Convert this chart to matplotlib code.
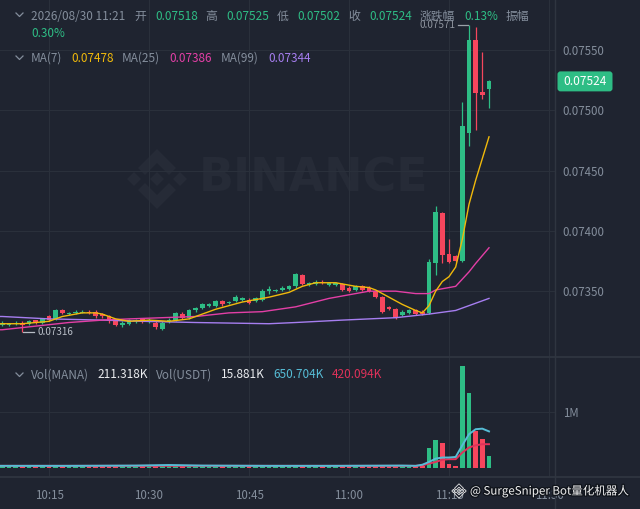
import numpy as np
import matplotlib.pyplot as plt
from matplotlib.patches import Polygon, FancyBboxPatch
from matplotlib import patheffects as pe

plt.rcParams['font.family'] = ['Noto Sans CJK SC', 'DejaVu Sans']

BG = '#1f2430'
GRID = '#2a303b'
SEP = '#2f3540'
TXT = '#848e9c'
UP = '#2ebd85'
DN = '#f6465d'
C_MA7 = '#f0b90b'
C_MA25 = '#e33fa6'
C_MA99 = '#a67ef0'
C_VMA5 = '#56bdd6'
C_VMA10 = '#e0325a'

# 1m candles, 10:08 .. 11:21 (index 0..73)
opens = [0.07322, 0.07322, 0.07323, 0.07324, 0.07323, 0.07326, 0.07324, 0.07329, 0.07327, 0.07334,
         0.07331, 0.07332, 0.07332, 0.07333, 0.07333, 0.07331, 0.07329, 0.07326, 0.07322, 0.07323,
         0.07325, 0.07327, 0.07325, 0.07324, 0.07319, 0.07325, 0.07326, 0.07331, 0.07328, 0.07334,
         0.07336, 0.07338, 0.07338, 0.07342, 0.07340, 0.07342, 0.07343, 0.07343, 0.07342, 0.07343,
         0.07350, 0.07350, 0.07351, 0.07352, 0.07354, 0.07363, 0.07355, 0.07356, 0.07358, 0.07355,
         0.07355, 0.07356, 0.07353, 0.07351, 0.07354, 0.07353, 0.07350, 0.07345, 0.07337, 0.07335,
         0.07330, 0.07332, 0.07334, 0.07333, 0.07332, 0.07373, 0.07415, 0.07381, 0.07379, 0.07375,
         0.07481, 0.07558, 0.07515, 0.07518]
closes = [0.07324, 0.07324, 0.07324, 0.07322, 0.07325, 0.07324, 0.07327, 0.07326, 0.07334, 0.07332,
          0.07332, 0.07333, 0.07333, 0.07332, 0.07329, 0.07329, 0.07325, 0.07322, 0.07324, 0.07326,
          0.07326, 0.07325, 0.07326, 0.07320, 0.07324, 0.07326, 0.07332, 0.07328, 0.07334, 0.07336,
          0.07339, 0.07339, 0.07342, 0.07339, 0.07341, 0.07345, 0.07344, 0.07340, 0.07344, 0.07350,
          0.07352, 0.07351, 0.07353, 0.07354, 0.07364, 0.07356, 0.07357, 0.07358, 0.07357, 0.07357,
          0.07357, 0.07351, 0.07350, 0.07354, 0.07351, 0.07350, 0.07345, 0.07333, 0.07335, 0.07328,
          0.07333, 0.07334, 0.07331, 0.07331, 0.07374, 0.07416, 0.07380, 0.07374, 0.07375, 0.07487,
          0.07558, 0.07514, 0.07513, 0.07524]
highs = [0.07325, 0.07324, 0.07325, 0.07325, 0.07326, 0.07326, 0.07328, 0.07330, 0.07335, 0.07335,
         0.07333, 0.07334, 0.07334, 0.07334, 0.07334, 0.07332, 0.07330, 0.07327, 0.07325, 0.07327,
         0.07327, 0.07328, 0.07328, 0.07325, 0.07325, 0.07328, 0.07333, 0.07333, 0.07335, 0.07337,
         0.07340, 0.07340, 0.07343, 0.07343, 0.07342, 0.07347, 0.07345, 0.07344, 0.07345, 0.07352,
         0.07354, 0.07352, 0.07354, 0.07355, 0.07365, 0.07364, 0.07358, 0.07359, 0.07359, 0.07358,
         0.07358, 0.07357, 0.07354, 0.07355, 0.07355, 0.07354, 0.07351, 0.07346, 0.07338, 0.07336,
         0.07334, 0.07335, 0.07335, 0.07334, 0.07377, 0.07421, 0.07416, 0.07393, 0.07380, 0.07507,
         0.07571, 0.07569, 0.07548, 0.07525]
lows = [0.07321, 0.07321, 0.07322, 0.07316, 0.07322, 0.07323, 0.07323, 0.07325, 0.07326, 0.07331,
        0.07330, 0.07331, 0.07332, 0.07331, 0.07328, 0.07328, 0.07324, 0.07321, 0.07320, 0.07322,
        0.07324, 0.07324, 0.07324, 0.07319, 0.07318, 0.07324, 0.07325, 0.07327, 0.07327, 0.07333,
        0.07335, 0.07337, 0.07337, 0.07338, 0.07339, 0.07341, 0.07342, 0.07339, 0.07341, 0.07342,
        0.07348, 0.07349, 0.07350, 0.07351, 0.07353, 0.07355, 0.07354, 0.07355, 0.07356, 0.07354,
        0.07354, 0.07350, 0.07349, 0.07350, 0.07350, 0.07349, 0.07344, 0.07332, 0.07334, 0.07327,
        0.07329, 0.07331, 0.07330, 0.07330, 0.07331, 0.07363, 0.07373, 0.07373, 0.07374, 0.07374,
        0.07470, 0.07484, 0.07509, 0.07502]
# volume in millions of MANA
vols = [0.03, 0.02, 0.02, 0.04, 0.02, 0.02, 0.03, 0.03, 0.04, 0.03,
        0.02, 0.02, 0.02, 0.02, 0.03, 0.02, 0.03, 0.03, 0.03, 0.02,
        0.02, 0.03, 0.02, 0.04, 0.04, 0.02, 0.03, 0.03, 0.03, 0.02,
        0.02, 0.02, 0.03, 0.02, 0.02, 0.05, 0.02, 0.03, 0.02, 0.03,
        0.02, 0.02, 0.02, 0.02, 0.04, 0.03, 0.02, 0.02, 0.02, 0.02,
        0.02, 0.03, 0.02, 0.02, 0.02, 0.02, 0.03, 0.03, 0.02, 0.03,
        0.05, 0.02, 0.03, 0.02, 0.36, 0.49, 0.44, 0.07, 0.02, 1.82,
        1.35, 0.65, 0.51, 0.211318]

# moving averages (index, value)
ma7_t = [-1, 0, 3, 5, 7, 9, 12, 14, 15, 17, 19, 22, 25, 28, 30, 32, 34, 36, 38, 40, 43, 45, 47,
         50, 51, 53, 55, 56, 58, 60, 62, 63, 64, 65, 66, 67, 68, 69, 70, 71, 72, 73]
ma7_v = [0.07323, 0.07323, 0.07323, 0.07324, 0.07325, 0.07329, 0.07332, 0.07332, 0.07331, 0.07327,
         0.07325, 0.07326, 0.07325, 0.07327, 0.07331, 0.07335, 0.07338, 0.07341, 0.07343, 0.07345,
         0.07349, 0.07354, 0.07357, 0.07357, 0.07356, 0.07354, 0.07353, 0.07351, 0.07345, 0.07339,
         0.07334, 0.07332, 0.07338, 0.07350, 0.07358, 0.07362, 0.07370, 0.07393, 0.07422, 0.07442,
         0.07460, 0.07478]
ma25_t = [-1, 0, 5, 10, 15, 19, 24, 29, 34, 39, 44, 49, 52, 55, 59, 62, 64, 65, 68, 70, 71, 73]
ma25_v = [0.07318, 0.07318, 0.07321, 0.07324, 0.07326, 0.07327, 0.07328, 0.07329, 0.07332, 0.07333,
          0.07337, 0.07344, 0.07347, 0.07350, 0.07350, 0.07348, 0.07348, 0.07351, 0.07354, 0.07366,
          0.07373, 0.07386]
ma99_t = [-1, 0, 7, 15, 21, 29, 40, 44, 51, 59, 64, 68, 73]
ma99_v = [0.07329, 0.07329, 0.07327, 0.07326, 0.07325, 0.07324, 0.07323, 0.07324, 0.07326, 0.07328,
          0.07331, 0.07334, 0.07344]
vma5_t = [-1, 10, 20, 25, 30, 40, 50, 60, 62, 63, 64, 65, 66, 67, 68, 69, 70, 71, 72, 73]
vma5_v = [0.03, 0.03, 0.035, 0.045, 0.035, 0.03, 0.03, 0.035, 0.03, 0.05, 0.10, 0.16, 0.18, 0.18,
          0.19, 0.40, 0.60, 0.69, 0.70, 0.650704]
vma10_t = [-1, 20, 40, 60, 62, 63, 64, 65, 66, 67, 68, 69, 70, 71, 72, 73]
vma10_v = [0.03, 0.03, 0.03, 0.03, 0.03, 0.04, 0.07, 0.10, 0.14, 0.15, 0.15, 0.27, 0.36, 0.40,
           0.42, 0.420094]

price_ticks = [0.07350, 0.07400, 0.07450, 0.07500, 0.07550]
time_ticks = [7, 22, 37, 52, 67, 82]
time_labels = ['10:15', '10:30', '10:45', '11:00', '11:15', '11:30']
vol_usdt = '15.881K'

W, H = 640, 509
fig = plt.figure(figsize=(W / 100, H / 100), dpi=100, facecolor=BG)

# background layer in pixel coords: big watermark
bg = fig.add_axes([0, 0, 1, 1], zorder=0)
bg.set_xlim(0, W)
bg.set_ylim(H, 0)
bg.axis('off')


def logo(a, cx, cy, s, **kw):
    shapes = [
        [(0, -7), (7, 0), (0, 7), (-7, 0)],
        [(-23, -7), (-16, 0), (-23, 7), (-30, 0)],
        [(23, -7), (30, 0), (23, 7), (16, 0)],
        [(0, -30), (19, -11), (12, -4), (0, -16), (-12, -4), (-19, -11)],
        [(0, 30), (19, 11), (12, 4), (0, 16), (-12, 4), (-19, 11)],
    ]
    for sh in shapes:
        a.add_patch(Polygon([(cx + s * x, cy + s * y) for x, y in sh], closed=True, **kw))


WM = '#262b37'
logo(bg, 157, 179, 1.0, fc=WM, ec='none')
bg.text(199, 179, 'BINANCE', fontsize=33, fontweight='bold', color=WM,
        family='DejaVu Sans', va='center', ha='left')

# price panel
ax = fig.add_axes([0, 1 - 357 / H, 555 / W, 357 / H], zorder=2)
axv = fig.add_axes([0, 1 - 477 / H, 555 / W, 120 / H], zorder=2)
for a in (ax, axv):
    a.set_facecolor('none')
    for s in a.spines.values():
        s.set_visible(False)
    a.set_xlim(-0.345, 82.9)
    a.set_xticks(time_ticks)
    a.grid(True, color=GRID, lw=0.8)
    a.set_axisbelow(True)
    a.yaxis.tick_right()

t = np.arange(len(opens))
o = np.array(opens)
c = np.array(closes)
up = c >= o
cols = np.where(up, UP, DN)
body_lo = np.minimum(o, c)
body_h = np.maximum(np.abs(c - o), 0.0000085)
ax.vlines(t, lows, highs, colors=cols, lw=0.9, zorder=3)
ax.bar(t, body_h, bottom=body_lo, width=0.74, color=cols, zorder=4)

ax.plot(ma99_t, ma99_v, color=C_MA99, lw=1.0, zorder=5)
ax.plot(ma25_t, ma25_v, color=C_MA25, lw=1.0, zorder=5)
ax.plot(ma7_t, ma7_v, color=C_MA7, lw=1.0, zorder=5)

ax.set_ylim(0.072954, 0.075915)
ax.set_yticks(price_ticks)
ax.set_yticklabels([f'{p:.5f}' for p in price_ticks])
ax.tick_params(axis='y', length=0, pad=5.5, labelcolor=TXT, labelsize=8.3)
ax.tick_params(axis='x', length=0, labelbottom=False)

# low / high markers
i_lo = int(np.argmin(lows))
ax.plot([i_lo + 0.15, i_lo + 1.7], [lows[i_lo]] * 2, color='#b7bdc6', lw=0.9, zorder=6)
ax.text(i_lo + 2.25, lows[i_lo], f'{lows[i_lo]:.5f}', color='#b7bdc6', fontsize=7.2,
        va='center', ha='left', zorder=6)
i_hi = int(np.argmax(highs))
ax.plot([i_hi - 1.65, i_hi - 0.15], [highs[i_hi]] * 2, color='#9aa0a8', lw=0.9, zorder=6)
ax.text(i_hi - 2.0, highs[i_hi], f'{highs[i_hi]:.5f}', color='#8e949e', fontsize=7.2,
        va='center', ha='right', zorder=6)

# volume panel
axv.bar(t, vols, width=0.74, color=cols, zorder=3)
axv.plot(vma10_t, vma10_v, color=C_VMA10, lw=1.4, zorder=4)
axv.plot(vma5_t, vma5_v, color=C_VMA5, lw=1.4, zorder=4)
axv.set_ylim(-0.171, 1.991)
axv.set_yticks([1.0])
axv.set_yticklabels(['1M'])
axv.set_xticklabels(time_labels)
axv.tick_params(axis='y', length=0, pad=5.5, labelcolor=TXT, labelsize=8.3)
axv.tick_params(axis='x', length=0, pad=8.5, labelcolor=TXT, labelsize=8.3)

# overlay in pixel coords
top = fig.add_axes([0, 0, 1, 1], zorder=5)
top.set_xlim(0, W)
top.set_ylim(H, 0)
top.axis('off')
top.plot([0, W], [357, 357], color=SEP, lw=1.3)
top.plot([0, W], [477, 477], color=SEP, lw=1.3)
top.plot([555, 555], [0, H], color=SEP, lw=1.0)


def chevron(y):
    top.plot([16, 19.5, 23], [y - 2, y + 1.5, y - 2], color=TXT, lw=0.9)


def label_row(y, parts):
    for x, s, col in parts:
        top.text(x, y, s, color=col, fontsize=8.5, va='center', ha='left')


chevron(15)
label_row(16, [(31, '2026/08/30 11:21', TXT), (134, '开', TXT), (155, f'{opens[-1]:.5f}', UP),
               (205, '高', TXT), (226, f'{highs[-1]:.5f}', UP), (277, '低', TXT),
               (297, f'{lows[-1]:.5f}', UP), (348, '收', TXT), (369, f'{closes[-1]:.5f}', UP),
               (420, '涨跌幅', TXT), (464, '0.13%', UP), (506, '振幅', TXT)])
label_row(33, [(31, '0.30%', UP)])
chevron(58)
label_row(58, [(31, 'MA(7)', TXT), (71, f'{ma7_v[-1]:.5f}', C_MA7),
               (122, 'MA(25)', TXT), (169, f'{ma25_v[-1]:.5f}', C_MA25),
               (221, 'MA(99)', TXT), (268, f'{ma99_v[-1]:.5f}', C_MA99)])
chevron(375)
label_row(375, [(31, 'Vol(MANA)', TXT), (97, f'{vols[-1] * 1000:.3f}K', '#eaecef'),
                (156, 'Vol(USDT)', TXT), (221, vol_usdt, '#eaecef'),
                (273, f'{vma5_v[-1] * 1000:.3f}K', C_VMA5),
                (332, f'{vma10_v[-1] * 1000:.3f}K', C_VMA10)])

# last price tag
fig.canvas.draw()
y_last = H - ax.transData.transform((0, closes[-1]))[1]
top.add_patch(FancyBboxPatch((557.5, y_last - 10), 55, 20,
                             boxstyle='round,pad=0,rounding_size=3', fc=UP, ec='none'))
top.text(585, y_last, f'{closes[-1]:.5f}', color='white', fontsize=8.6, va='center', ha='center')

# bottom watermark
logo(top, 459, 491, 0.24, fc='none', ec='#e6e6e6', lw=0.6)
top.text(470, 491, '@ SurgeSniper Bot量化机器人', color='#f2f2f2', fontsize=8.3,
         va='center', ha='left',
         path_effects=[pe.withStroke(linewidth=2, foreground='#11151c')])

fig.savefig('out.png', dpi=100, facecolor=BG)
